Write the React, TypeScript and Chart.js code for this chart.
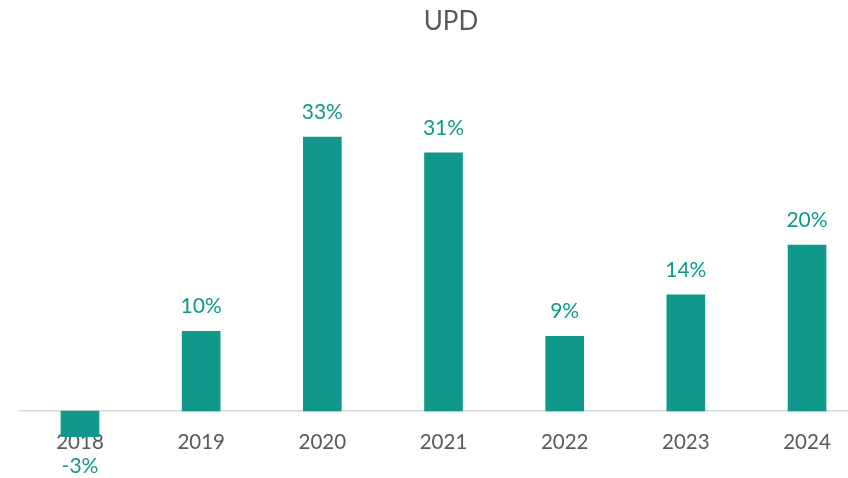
import React, { useEffect, useRef } from "react";
import { Chart, registerables } from "chart.js";

Chart.register(...registerables);

const categories = ["2018", "2019", "2020", "2021", "2022", "2023", "2024"];
const growth = [-3.1, 9.6, 33.0, 31.1, 9.0, 14.0, 20.0];
const titleText = "UPD";

const BAR_COLOR = "#10988a";
const TEXT_GRAY = "#595959";
const FONT = "Lato, 'Open Sans', sans-serif";

const labelPlugin = {
  id: "barLabels",
  afterDatasetsDraw(chart: any) {
    const ctx = chart.ctx;
    const meta = chart.getDatasetMeta(0);
    const ds = chart.data.datasets[0];
    ctx.save();
    ctx.font = `21px ${FONT}`;
    ctx.fillStyle = BAR_COLOR;
    ctx.textAlign = "center";
    ctx.textBaseline = "middle";
    meta.data.forEach((bar: any, i: number) => {
      const v = ds.data[i] as number;
      const txt = `${Math.round(v)}%`;
      const y = v >= 0 ? bar.y - 25 : bar.y + 30;
      ctx.fillText(txt, bar.x, y);
    });
    ctx.restore();
  },
};

const titlePlugin = {
  id: "centerTitle",
  afterDraw(chart: any) {
    const ctx = chart.ctx;
    ctx.save();
    ctx.font = `26px ${FONT}`;
    ctx.fillStyle = TEXT_GRAY;
    ctx.textAlign = "center";
    ctx.textBaseline = "middle";
    ctx.fillText(titleText, chart.width / 2, 22);
    ctx.restore();
  },
};

export default function App() {
  const ref = useRef<HTMLCanvasElement>(null);
  useEffect(() => {
    if (!ref.current) return;
    const chart = new Chart(ref.current, {
      type: "bar",
      data: {
        labels: categories,
        datasets: [
          {
            data: growth,
            backgroundColor: BAR_COLOR,
            barThickness: 38,
          },
        ],
      },
      options: {
        animation: false,
        responsive: true,
        maintainAspectRatio: false,
        layout: { padding: { left: 19.4, right: 34.4, top: 95.6, bottom: 25.5 } },
        plugins: {
          legend: { display: false },
          tooltip: { enabled: false },
          title: { display: false },
        },
        scales: {
          x: {
            position: { y: 0 } as any,
            grid: { display: false, drawTicks: false },
            border: { display: true, color: "#d9d9d9", width: 1.5 },
            ticks: {
              color: TEXT_GRAY,
              font: { family: FONT, size: 20.5 },
              padding: 19,
              maxRotation: 0,
            },
            afterFit: (scale: any) => {
              scale.height = 0;
            },
          },
          y: {
            display: false,
            min: -5,
            max: 38,
          },
        },
      },
      plugins: [labelPlugin, titlePlugin],
    });
    return () => chart.destroy();
  }, []);
  return (
    <div
      style={{
        position: "fixed",
        left: 0,
        top: 0,
        width: 848,
        height: 478,
        overflow: "hidden",
        background: "#fff",
      }}
    >
      <div style={{ position: "relative", width: 902, height: 478 }}>
        <canvas ref={ref} />
      </div>
    </div>
  );
}
